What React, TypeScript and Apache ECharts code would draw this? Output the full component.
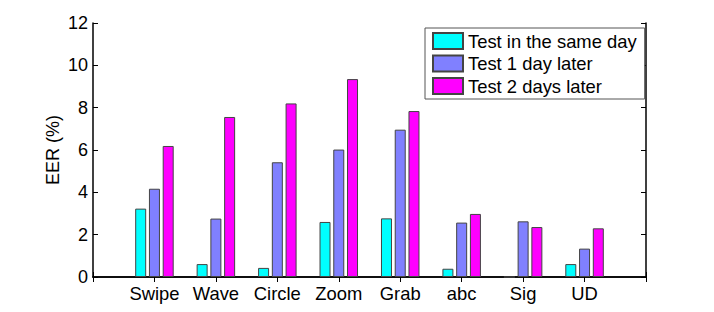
import React, { useEffect, useRef } from "react";
import * as echarts from "echarts";

const categories = ["Swipe", "Wave", "Circle", "Zoom", "Grab", "abc", "Sig", "UD"];
const sameDay = [3.23, 0.61, 0.43, 2.6, 2.77, 0.39, 0, 0.61];
const oneDayLater = [4.17, 2.76, 5.42, 6.02, 6.96, 2.57, 2.63, 1.34];
const twoDaysLater = [6.19, 7.56, 8.2, 9.35, 7.84, 2.98, 2.36, 2.3];
const seriesNames = ["Test in the same day", "Test 1 day later", "Test 2 days later"];
const seriesColors = ["#00FFFF", "#8080FF", "#FF00FF"];
const yTicks = [0, 2, 4, 6, 8, 10, 12];

const FONT = "'Liberation Sans', Arial, Helvetica, sans-serif";

export default function App() {
  const ref = useRef<HTMLDivElement>(null);
  useEffect(() => {
    if (!ref.current) return;
    const chart = echarts.init(ref.current, undefined, { renderer: "svg" });
    // padded categories so that ticks land at positions 1..8 of a 0..9 range
    const cats = ["", ...categories, ""];
    const pad = (arr: number[]) => [null, ...arr, null];
    const allData = [sameDay, oneDayLater, twoDaysLater];
    const axisLine = { show: true, lineStyle: { color: "#000", width: 1.5 } };
    chart.setOption({
      animation: false,
      backgroundColor: "#fff",
      textStyle: { fontFamily: FONT },
      grid: { left: 93, right: 68, top: 23, bottom: 35, containLabel: false },
      legend: {
        orient: "vertical",
        left: 425,
        top: 28,
        padding: [4, 8, 4, 7],
        itemWidth: 30,
        itemHeight: 16,
        itemGap: 4.5,
        icon: "rect",
        borderColor: "#555",
        borderWidth: 1,
        backgroundColor: "#fff",
        textStyle: { fontFamily: FONT, fontSize: 18.4, color: "#000", lineHeight: 18 },
        data: seriesNames,
      },
      xAxis: [
        {
          type: "category",
          data: cats,
          boundaryGap: false,
          axisLine,
          axisTick: { show: true, inside: true, length: 5, lineStyle: { color: "#000", width: 1 } },
          axisLabel: { fontFamily: FONT, fontSize: 18.4, color: "#000", margin: 7, interval: 0 },
          splitLine: { show: false },
        },
        {
          type: "category",
          data: cats,
          boundaryGap: false,
          position: "top",
          axisLine,
          axisTick: { show: true, inside: true, length: 5, lineStyle: { color: "#000", width: 1 } },
          axisLabel: { show: false },
          splitLine: { show: false },
        },
      ],
      yAxis: [
        {
          type: "value",
          min: 0,
          max: 12,
          interval: 2,
          name: "EER (%)",
          nameLocation: "middle",
          nameGap: 31,
          nameMoveOverlap: false,
          nameTextStyle: { fontFamily: FONT, fontSize: 18, color: "#000" },
          axisLine,
          axisTick: { show: true, inside: true, length: 5, lineStyle: { color: "#000", width: 1 } },
          axisLabel: {
            fontFamily: FONT,
            fontSize: 18,
            color: "#000",
            margin: 5,
            formatter: (v: number) => (yTicks.includes(v) ? String(v) : ""),
          },
          splitLine: { show: false },
        },
        {
          type: "value",
          min: 0,
          max: 12,
          interval: 2,
          position: "right",
          axisLine,
          axisTick: { show: true, inside: true, length: 5, lineStyle: { color: "#000", width: 1 } },
          axisLabel: { show: false },
          splitLine: { show: false },
        },
      ],
      series: allData.map((d, i) => ({
        type: "bar",
        name: seriesNames[i],
        data: pad(d),
        xAxisIndex: 0,
        yAxisIndex: 0,
        barWidth: 11,
        barGap: "25%",
        itemStyle: { color: seriesColors[i], borderColor: "#444", borderWidth: 1 },
        emphasis: { disabled: true },
      })),
    });
    return () => chart.dispose();
  }, []);
  return (
    <div
      ref={ref}
      style={{ position: "fixed", left: 0, top: 0, width: 714, height: 312, background: "#fff" }}
    />
  );
}
